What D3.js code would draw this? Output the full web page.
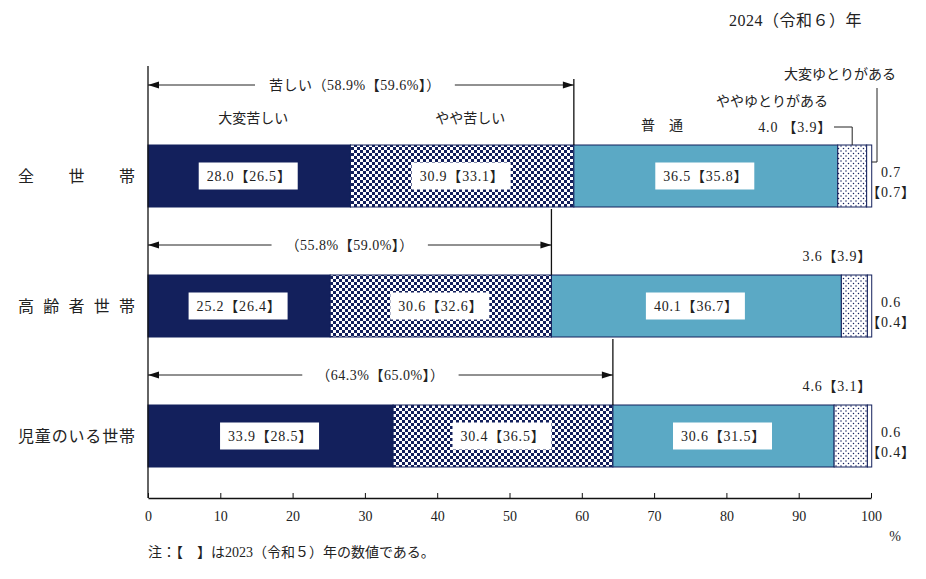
<!DOCTYPE html>
<html>
<head>
<meta charset="utf-8">
<script src="https://cdn.jsdelivr.net/npm/d3@7"></script>
<style>
  body { margin: 0; background: #fff; }
  svg text { font-family: "Liberation Serif", "Noto Sans CJK JP", serif; fill: #222; }
</style>
</head>
<body>
<div id="chart"></div>
<script>
// Data (2024, with 2023 in brackets)
const households = ["全　世　帯", "高齢者世帯", "児童のいる世帯"];
const levels = ["大変苦しい", "やや苦しい", "普　通", "ややゆとりがある", "大変ゆとりがある"];

const veryHard = [28.0, 25.2, 33.9];
const ratherHard = [30.9, 30.6, 30.4];
const normal = [36.5, 40.1, 30.6];
const ratherEasy = [4.0, 3.6, 4.6];
const veryEasy = [0.7, 0.6, 0.6];

const veryHardPrev = [26.5, 26.4, 28.5];
const ratherHardPrev = [33.1, 32.6, 36.5];
const normalPrev = [35.8, 36.7, 31.5];
const ratherEasyPrev = [3.9, 3.9, 3.1];
const veryEasyPrev = [0.7, 0.4, 0.4];

const hardTotal = [58.9, 55.8, 64.3];
const hardTotalPrev = [59.6, 59.0, 65.0];

const xTicks = [0, 10, 20, 30, 40, 50, 60, 70, 80, 90, 100];

const keys = ["veryHard", "ratherHard", "normal", "ratherEasy", "veryEasy"];
const rows = households.map((h, i) => ({
  name: h,
  veryHard: veryHard[i], ratherHard: ratherHard[i], normal: normal[i],
  ratherEasy: ratherEasy[i], veryEasy: veryEasy[i],
  prev: [veryHardPrev[i], ratherHardPrev[i], normalPrev[i], ratherEasyPrev[i], veryEasyPrev[i]]
}));

const navy = "#13205c";
const lightBlue = "#5ba9c5";

const width = 926, height = 579;
const svg = d3.select("#chart").append("svg")
  .attr("width", width)
  .attr("height", height);

// patterns
const defs = svg.append("defs");
const checker = defs.append("pattern")
  .attr("id", "checker")
  .attr("width", 6).attr("height", 6)
  .attr("patternUnits", "userSpaceOnUse");
checker.append("rect").attr("width", 6).attr("height", 6).attr("fill", "#fff");
checker.append("rect").attr("width", 3).attr("height", 3).attr("fill", navy);
checker.append("rect").attr("x", 3).attr("y", 3).attr("width", 3).attr("height", 3).attr("fill", navy);

const dots = defs.append("pattern")
  .attr("id", "dots")
  .attr("width", 5).attr("height", 5)
  .attr("patternUnits", "userSpaceOnUse");
dots.append("rect").attr("width", 5).attr("height", 5).attr("fill", "#fff");
dots.append("circle").attr("cx", 1).attr("cy", 1).attr("r", 0.75).attr("fill", navy);
dots.append("circle").attr("cx", 3.5).attr("cy", 3.5).attr("r", 0.75).attr("fill", navy);

const fills = [navy, "url(#checker)", lightBlue, "url(#dots)", "#fff"];

// scales
const x = d3.scaleLinear().domain([0, 100]).range([148, 871]);
const y = d3.scaleBand().domain(households)
  .range([111, 501])
  .paddingInner(68 / 130)
  .paddingOuter(34 / 130);

const axisY = 498;

// title
svg.append("text")
  .attr("x", 862).attr("y", 26)
  .attr("text-anchor", "end")
  .attr("font-size", 16)
  .attr("letter-spacing", 0.5)
  .text("2024（令和６）年");

// stacked bars
const series = d3.stack().keys(keys)(rows);

svg.append("g")
  .selectAll("g")
  .data(series)
  .join("g")
  .attr("fill", (d, i) => fills[i])
  .selectAll("rect")
  .data(d => d)
  .join("rect")
  .attr("x", d => x(d[0]))
  .attr("y", d => y(d.data.name))
  .attr("width", d => x(d[1]) - x(d[0]))
  .attr("height", y.bandwidth())
  .attr("stroke", navy)
  .attr("stroke-width", 1);

// value labels in white boxes for the three large segments
const inner = svg.append("g");
series.slice(0, 3).forEach((s, k) => {
  s.forEach((d, i) => {
    const cx = (x(d[0]) + x(d[1])) / 2;
    const cy = y(d.data.name) + y.bandwidth() / 2;
    const g = inner.append("g");
    const t = g.append("text")
      .attr("x", cx).attr("y", cy)
      .attr("dy", "0.36em")
      .attr("text-anchor", "middle")
      .attr("font-size", 14)
      .attr("letter-spacing", 0.8)
      .text(`${d.data[keys[k]].toFixed(1)}【${d.data.prev[k].toFixed(1)}】`);
    const w = t.node().getComputedTextLength();
    g.insert("rect", "text")
      .attr("x", cx - w / 2 - 8)
      .attr("y", cy - 13.5)
      .attr("width", w + 14)
      .attr("height", 27)
      .attr("fill", "#fff");
  });
});

// ややゆとりがある labels (above bar)
const easy = series[3];
easy.forEach((d, i) => {
  const top = y(d.data.name);
  if (i === 0) {
    const mid = (x(d[0]) + x(d[1])) / 2;
    svg.append("text")
      .attr("x", 832).attr("y", top - 13)
      .attr("text-anchor", "end")
      .attr("font-size", 14)
      .attr("letter-spacing", 0.8)
      .text(`${d.data.ratherEasy.toFixed(1)} 【${d.data.prev[3].toFixed(1)}】`);
    svg.append("path")
      .attr("d", `M834,${top - 18}H${mid}V${top}`)
      .attr("fill", "none").attr("stroke", "#222").attr("stroke-width", 1);
  } else {
    svg.append("text")
      .attr("x", x(100) + 1).attr("y", top - 14)
      .attr("text-anchor", "end")
      .attr("font-size", 14)
      .attr("letter-spacing", 0.8)
      .text(`${d.data.ratherEasy.toFixed(1)}【${d.data.prev[3].toFixed(1)}】`);
  }
});

// 大変ゆとりがある labels (right of bar)
series[4].forEach((d, i) => {
  const cy = y(d.data.name) + y.bandwidth() / 2;
  svg.append("text")
    .attr("x", 891).attr("y", cy + 1)
    .attr("text-anchor", "middle")
    .attr("font-size", 14)
    .attr("letter-spacing", 0.8)
    .text(d.data.veryEasy.toFixed(1));
  svg.append("text")
    .attr("x", 891).attr("y", cy + 21)
    .attr("text-anchor", "middle")
    .attr("font-size", 14)
    .attr("letter-spacing", 0.8)
    .text(`【${d.data.prev[4].toFixed(1)}】`);
  if (i === 0) {
    svg.append("path")
      .attr("d", `M${x(d[1])},${cy - 14}H877V88`)
      .attr("fill", "none").attr("stroke", "#222").attr("stroke-width", 1);
  }
});

// category labels above the first bar
const top0 = y(households[0]);
const catLabels = [
  { text: levels[0], x: (x(0) + x(veryHard[0])) / 2 + 4, y: top0 - 22 },
  { text: levels[1], x: (x(veryHard[0]) + x(hardTotal[0])) / 2 + 8, y: top0 - 22 },
  { text: levels[2], x: 662, y: top0 - 15 },
  { text: levels[3], x: 772, y: top0 - 39 },
  { text: levels[4], x: 840, y: top0 - 66 }
];
svg.append("g").selectAll("text")
  .data(catLabels)
  .join("text")
  .attr("x", d => d.x).attr("y", d => d.y)
  .attr("text-anchor", "middle")
  .attr("font-size", 14)
  .text(d => d.text);

// "hard" total brackets with arrows
const arrowHead = (px, py, dir) =>
  `M${px},${py}L${px - dir * 11},${py - 3.5}L${px - dir * 11},${py + 3.5}Z`;

hardTotal.forEach((v, i) => {
  const top = y(households[i]);
  const ay = i === 0 ? top - 60 : top - 30;
  const xr = x(v);
  const label = (i === 0 ? "苦しい" : "") + `（${v.toFixed(1)}%【${hardTotalPrev[i].toFixed(1)}%】）`;
  const cx = (x(0) + xr) / 2 - (i === 0 ? 6 : 0);
  const t = svg.append("text")
    .attr("x", cx).attr("y", ay)
    .attr("dy", "0.36em")
    .attr("text-anchor", "middle")
    .attr("font-size", 14)
    .attr("letter-spacing", 0.5)
    .text(label);
  const w = t.node().getComputedTextLength();
  svg.append("line")
    .attr("x1", x(0)).attr("x2", cx - w / 2 - 14)
    .attr("y1", ay).attr("y2", ay)
    .attr("stroke", "#222").attr("stroke-width", 1);
  svg.append("line")
    .attr("x1", cx + w / 2 + 14).attr("x2", xr)
    .attr("y1", ay).attr("y2", ay)
    .attr("stroke", "#222").attr("stroke-width", 1);
  svg.append("path").attr("d", arrowHead(x(0), ay, -1)).attr("fill", "#111");
  svg.append("path").attr("d", arrowHead(xr, ay, 1)).attr("fill", "#111");
  svg.append("line")
    .attr("x1", xr).attr("x2", xr)
    .attr("y1", top - 66).attr("y2", top)
    .attr("stroke", "#111").attr("stroke-width", 1.3);
});

// household labels
svg.append("g").selectAll("text")
  .data(households)
  .join("text")
  .attr("x", 18)
  .attr("y", d => y(d) + y.bandwidth() / 2)
  .attr("dy", "0.36em")
  .attr("font-size", 16)
  .attr("textLength", 117)
  .attr("lengthAdjust", "spacing")
  .text(d => d);

// vertical axis line
svg.append("line")
  .attr("x1", x(0)).attr("x2", x(0))
  .attr("y1", 66).attr("y2", axisY)
  .attr("stroke", "#111").attr("stroke-width", 1.3);

// x axis
const xAxis = svg.append("g")
  .attr("transform", `translate(0,${axisY})`)
  .call(d3.axisBottom(x).tickValues(xTicks).tickSizeInner(-5).tickSizeOuter(0).tickPadding(13));
xAxis.select(".domain").attr("stroke", "#111").attr("stroke-width", 1.3);
xAxis.selectAll(".tick line").attr("stroke", "#111");
xAxis.selectAll("text")
  .attr("font-family", "Liberation Serif, serif")
  .attr("font-size", 14)
  .attr("fill", "#222");

svg.append("text")
  .attr("x", 895).attr("y", 541)
  .attr("text-anchor", "middle")
  .attr("font-size", 14)
  .text("%");

// note
svg.append("text")
  .attr("x", 148).attr("y", 557)
  .attr("font-size", 14)
  .text("注：【　】は2023（令和５）年の数値である。");
</script>
</body>
</html>
